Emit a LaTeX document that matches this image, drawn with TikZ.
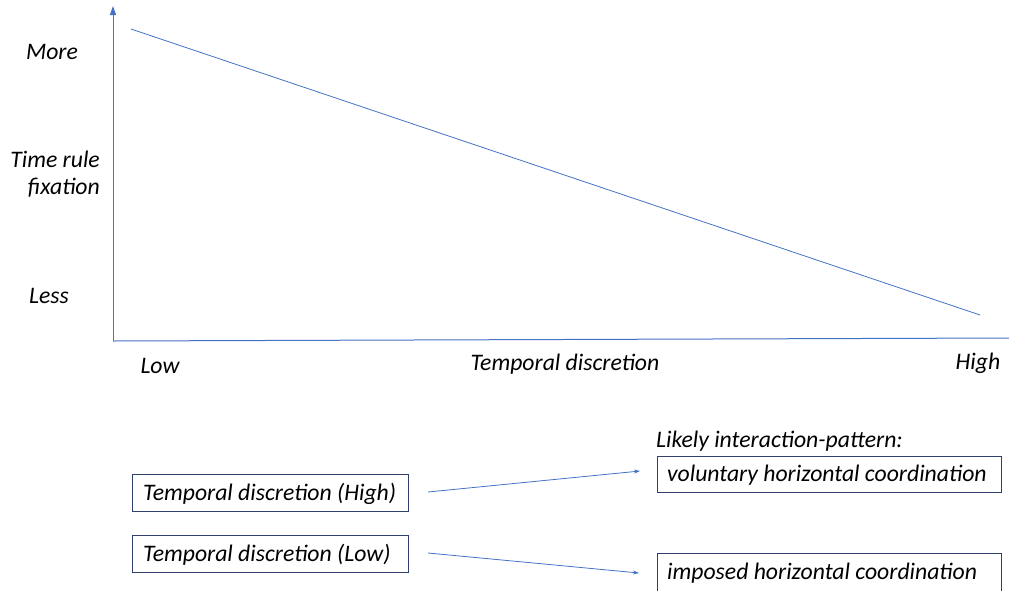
\documentclass[tikz,border=0pt]{standalone}
\usepackage{fontspec}
\setmainfont{Carlito}
\usetikzlibrary{arrows.meta}
\definecolor{axblue}{HTML}{4472C4}
\definecolor{boxnavy}{HTML}{2F3F6E}
\begin{document}
\begin{tikzpicture}[x=1pt,y=-1pt,
  lbl/.style={font=\fontsize{23.7}{27}\selectfont\itshape, text=black, inner sep=0pt},
  tbox/.style={draw=boxnavy, line width=0.9pt, inner sep=0pt, anchor=north west},
  conn/.style={draw=axblue, line width=0.8pt, -{Stealth[length=6pt,width=4pt]}}]
\clip (0,0) rectangle (1009,590);
\fill[white] (0,0) rectangle (1009,590);
% axes
\coordinate (O) at (113,341);
\coordinate (ytop) at (113,6);
\coordinate (xend) at (1009,338);
\draw[axblue, line width=1pt, -{Triangle[length=9pt,width=6pt]}] (O) -- (ytop);
\draw[axblue, line width=1pt] (O) -- (xend);
\coordinate (d1) at (131,29);
\coordinate (d2) at (980,315);
\draw[axblue, line width=0.8pt] (d1) -- (d2);
% axis labels
\node[lbl] (more) at (52,52) {More};
\node[lbl, align=right, anchor=east] (trf) at (100,174) {Time rule\\fixation};
\node[lbl] (less) at (49,296) {Less};
\node[lbl] (low) at (160,366) {Low};
\node[lbl] (td) at (565,364) {Temporal discretion};
\node[lbl] (high) at (978,363) {High};
% boxes
\node[tbox, minimum width=276pt, minimum height=37pt] (bh) at (132,474) {};
\node[lbl, anchor=west] (bht) at (143,494) {Temporal discretion (High)};
\node[tbox, minimum width=276pt, minimum height=37pt] (bl) at (132,535) {};
\node[lbl, anchor=west] (blt) at (143,555) {Temporal discretion (Low)};
\node[lbl, anchor=west] (likely) at (656,441) {Likely interaction-pattern:};
\node[tbox, minimum width=344pt, minimum height=36pt] (vh) at (657,456) {};
\node[lbl, anchor=west] (vht) at (667,475) {voluntary horizontal coordination};
\node[tbox, minimum width=344pt, minimum height=60pt] (ih) at (657,553) {};
\node[lbl, anchor=west] (iht) at (667,573) {imposed horizontal coordination};
% connectors
\coordinate (a1s) at (428,492);
\coordinate (a1e) at (640,471);
\coordinate (a2s) at (428,553);
\coordinate (a2e) at (639,573);
\draw[conn] (a1s) -- (a1e);
\draw[conn] (a2s) -- (a2e);
\end{tikzpicture}
\end{document}
